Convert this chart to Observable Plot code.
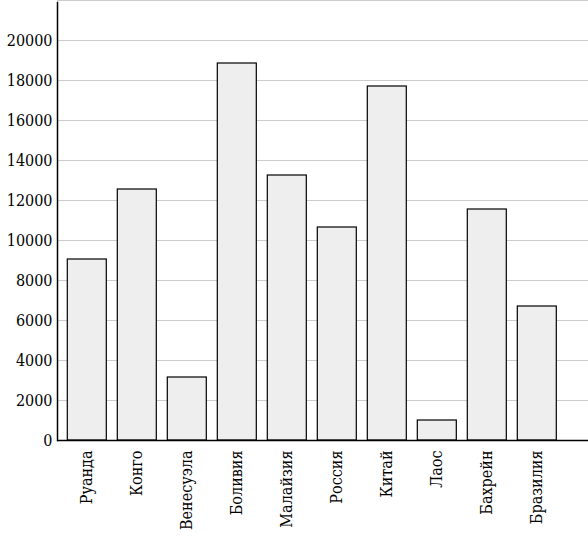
<!DOCTYPE html>
<html>
<head>
<meta charset="utf-8">
<script src="https://cdn.jsdelivr.net/npm/d3@7"></script>
<script src="https://cdn.jsdelivr.net/npm/@observablehq/plot@0.6"></script>
<style>
  html, body { margin: 0; padding: 0; background: #fff; }
  #chart svg { display: block; }
</style>
</head>
<body>
<div id="chart"></div>
<script>
const countries = ["Руанда", "Конго", "Венесуэла", "Боливия", "Малайзия", "Россия", "Китай", "Лаос", "Бахрейн", "Бразилия"];
const values = [9050, 12550, 3150, 18850, 13250, 10650, 17700, 1000, 11550, 6700];
const yTicks = [0, 2000, 4000, 6000, 8000, 10000, 12000, 14000, 16000, 18000, 20000];
const gridTicks = [2000, 4000, 6000, 8000, 10000, 12000, 14000, 16000, 18000, 20000, 22000];

const data = countries.map((c, i) => ({country: c, value: values[i]}));
const font = "'DejaVu Serif Condensed', 'DejaVu Serif', serif";

const chart = Plot.plot({
  width: 588,
  height: 546,
  marginLeft: 57,
  marginRight: 0,
  marginTop: 0,
  marginBottom: 106,
  style: {fontSize: "16px", fontFamily: font, color: "#000", background: "#fff"},
  x: {domain: countries, range: [57.3, 566.3], paddingInner: 0.22, paddingOuter: 0.2, round: false, label: null},
  y: {domain: [0, 22000], label: null},
  marks: [
    Plot.ruleY(gridTicks, {stroke: "#cccccc", strokeWidth: 1}),
    Plot.barY(data, {x: "country", y: "value", fill: "#eeeeee", stroke: "#000", strokeWidth: 1.2}),
    Plot.axisY({ticks: yTicks, tickSize: 0, tickPadding: 5, tickFormat: d => String(d), fontSize: 16, label: null}),
    Plot.axisX({tickSize: 0, tickPadding: 10, tickRotate: -90, fontSize: 16, label: null}),
    Plot.ruleY([0], {stroke: "#000", strokeWidth: 1.5}),
    Plot.frame({anchor: "left", stroke: "#000", strokeWidth: 1.5, insetTop: 2})
  ]
});
chart.querySelectorAll("text, g").forEach(el => { el.style.fontFamily = font; el.style.fontStretch = "condensed"; });
document.getElementById("chart").appendChild(chart);
</script>
</body>
</html>
